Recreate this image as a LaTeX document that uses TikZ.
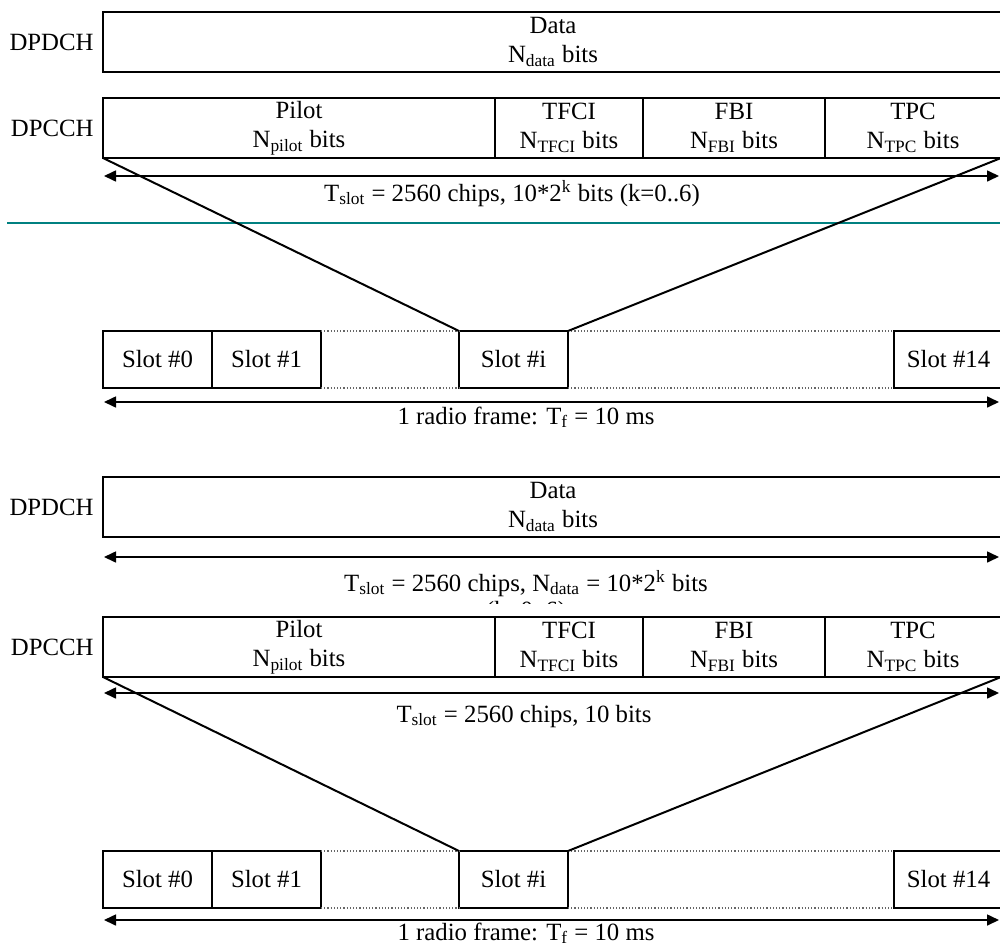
\documentclass[tikz,border=0pt]{standalone}
\usepackage{fontspec}
\setmainfont{Liberation Serif}
\usetikzlibrary{arrows.meta,positioning}
\definecolor{divteal}{RGB}{0,128,128}

\begin{document}
\begin{tikzpicture}[x=0.5pt, y=-0.5pt,
  font=\fontsize{12.4}{14.5}\selectfont,
  fld/.style={draw, line width=0.9pt, fill=white, inner sep=0pt, outer sep=0pt,
              align=center, anchor=north west, minimum width=#1, minimum height=30pt},
  slotbox/.style={fld=54.5pt, minimum height=28.5pt},
  chl/.style={inner sep=0pt},
  lbl/.style={anchor=base, inner sep=0pt},
  dim/.style={{Triangle[length=6pt,width=5.5pt]}-{Triangle[length=6pt,width=5.5pt]}, line width=0.8pt},
  fan/.style={line width=1pt},
  gap/.style={black!60, densely dotted, line width=0.6pt},
  divider/.style={divteal, line width=1pt}]
\useasboundingbox (0,0) rectangle (1000,947);
\clip (0,0) rectangle (1000,947);
\node[fld=450pt] (dp1) at (103,12) {Data\\N\textsubscript{data} bits};
\node[chl, left=4.5pt of dp1] (n1) {DPDCH};
\node[fld=196pt] (pil1) at (103,98) {Pilot\\N\textsubscript{pilot} bits};
\node[fld=74pt, right=0pt of pil1] (tfc1) {TFCI\\N\textsubscript{TFCI} bits};
\node[fld=91pt, right=0pt of tfc1] (fbi1) {FBI\\N\textsubscript{FBI} bits};
\node[fld=88pt, right=0pt of fbi1] (tpc1) {TPC\\N\textsubscript{TPC} bits};
\node[chl, left=4.5pt of pil1] (n2) {DPCCH};
\coordinate (t1l) at (104,176);
\coordinate (t1r) at (999,176);
\draw[dim] (t1l) -- (t1r);
\node[lbl] (ts1) at (512,201) {T\textsubscript{slot} = 2560 chips, 10*2\textsuperscript{k} bits (k=0..6)};
\coordinate (dvl) at (7,223);
\coordinate (dvr) at (1000,223);
\draw[divider] (dvl) -- (dvr);
\node[slotbox] (s0a) at (103,331) {Slot \#0};
\node[slotbox, right=0pt of s0a] (s1a) {Slot \#1};
\node[slotbox] (sia) at (459,331) {Slot \#i};
\node[slotbox] (s14a) at (894,331) {Slot \#14};
\draw[gap] (s1a.north east) -- (sia.north west) (sia.north east) -- (s14a.north west);
\draw[gap] (s1a.south east) -- (sia.south west) (sia.south east) -- (s14a.south west);
\draw[fan] (pil1.south west) -- (sia.north west);
\draw[fan] (tpc1.south east) -- (sia.north east);
\coordinate (f1l) at (104,402);
\coordinate (f1r) at (999,402);
\draw[dim] (f1l) -- (f1r);
\node[lbl] (rf1) at (526,424) {1 radio frame: T\textsubscript{f} = 10 ms};
\node[fld=450pt] (dp2) at (103,477) {Data\\N\textsubscript{data} bits};
\node[chl, left=4.5pt of dp2] (n3) {DPDCH};
\coordinate (t2l) at (104,557);
\coordinate (t2r) at (999,557);
\draw[dim] (t2l) -- (t2r);
\node[lbl] (ts2) at (526,591) {T\textsubscript{slot} = 2560 chips, N\textsubscript{data} = 10*2\textsuperscript{k} bits};
\begin{scope}
\clip (0,0) rectangle (1000,603);
\node[lbl] (ts2k) at (526,618) {(k=0..6)};
\end{scope}
\node[fld=196pt] (pil2) at (103,617) {Pilot\\N\textsubscript{pilot} bits};
\node[fld=74pt, right=0pt of pil2] (tfc2) {TFCI\\N\textsubscript{TFCI} bits};
\node[fld=91pt, right=0pt of tfc2] (fbi2) {FBI\\N\textsubscript{FBI} bits};
\node[fld=88pt, right=0pt of fbi2] (tpc2) {TPC\\N\textsubscript{TPC} bits};
\node[chl, left=4.5pt of pil2] (n4) {DPCCH};
\coordinate (t3l) at (104,693);
\coordinate (t3r) at (999,693);
\draw[dim] (t3l) -- (t3r);
\node[lbl] (ts3) at (524,722) {T\textsubscript{slot} = 2560 chips, 10 bits};
\node[slotbox] (s0b) at (103,851) {Slot \#0};
\node[slotbox, right=0pt of s0b] (s1b) {Slot \#1};
\node[slotbox] (sib) at (459,851) {Slot \#i};
\node[slotbox] (s14b) at (894,851) {Slot \#14};
\draw[gap] (s1b.north east) -- (sib.north west) (sib.north east) -- (s14b.north west);
\draw[gap] (s1b.south east) -- (sib.south west) (sib.south east) -- (s14b.south west);
\draw[fan] (pil2.south west) -- (sib.north west);
\draw[fan] (tpc2.south east) -- (sib.north east);
\coordinate (f2l) at (104,920);
\coordinate (f2r) at (999,920);
\draw[dim] (f2l) -- (f2r);
\node[lbl] (rf2) at (526,940) {1 radio frame: T\textsubscript{f} = 10 ms};
\end{tikzpicture}
\end{document}
